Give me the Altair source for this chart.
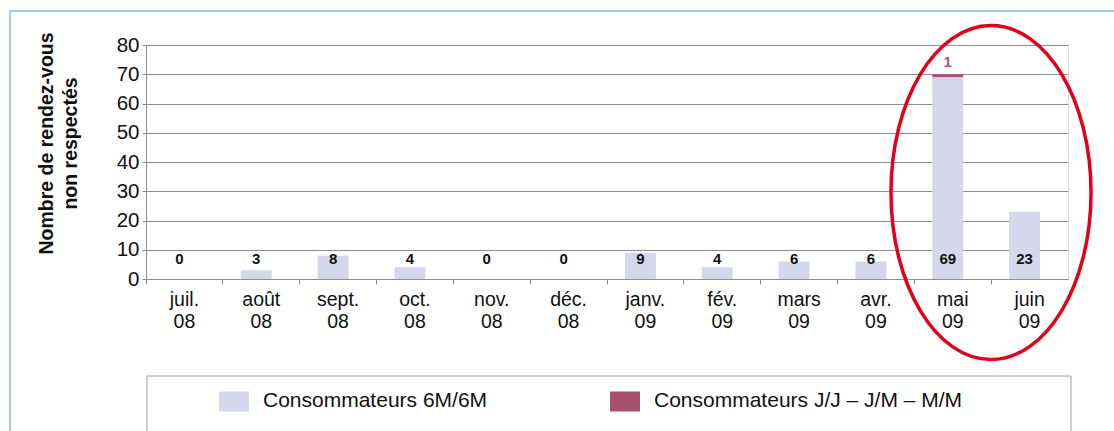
import altair as alt
import pandas as pd

# Monthly counts of missed appointments, two consumer groups (stacked)
months = ["juil. 08", "août 08", "sept. 08", "oct. 08", "nov. 08", "déc. 08",
          "janv. 09", "fév. 09", "mars 09", "avr. 09", "mai 09", "juin 09"]
series_names = ["Consommateurs 6M/6M", "Consommateurs J/J – J/M – M/M"]
conso_6m = [0, 3, 8, 4, 0, 0, 9, 4, 6, 6, 69, 23]
conso_jj = [0, 0, 0, 0, 0, 0, 0, 0, 0, 0, 1, 0]
colors = ["#d5d8eb", "#a8506f"]
y_ticks = [0, 10, 20, 30, 40, 50, 60, 70, 80]

rows = []
for i, m in enumerate(months):
    rows.append({"mois": m, "serie": series_names[0], "ordre": 0, "valeur": conso_6m[i]})
    rows.append({"mois": m, "serie": series_names[1], "ordre": 1, "valeur": conso_jj[i]})
df = pd.DataFrame(rows)

GRID = "#8e8e8e"
FONT = "Liberation Sans"

x_enc = alt.X(
    "mois:N", sort=months, title=None,
    scale=alt.Scale(paddingInner=0, paddingOuter=0),
    axis=alt.Axis(labelExpr="split(datum.label, ' ')", labelAngle=0,
                  labelFontSize=19.5, labelColor="#111", labelFont=FONT,
                  labelPadding=6, labelLineHeight=22, bandPosition=0,
                  tickSize=5, tickColor=GRID, domainColor=GRID, grid=False),
)
y_scale = alt.Scale(domain=[0, 80], nice=False)
# tickCount must not be below the number of explicit values, or Vega thins them
y_axis = alt.Axis(values=y_ticks, tickCount=len(y_ticks) + 1, labelOverlap=False,
                  grid=True, gridColor=GRID, tickSize=4, tickColor=GRID, domainColor=GRID,
                  labelFontSize=20.5, labelColor="#111", labelFont=FONT, labelPadding=3,
                  title=["Nombre de rendez-vous", "non respectés"],
                  titleFont=FONT, titleFontSize=19.5, titleFontWeight="bold",
                  titleColor="#111", titleAngle=-90, titleAlign="center",
                  titleBaseline="top", titleLineHeight=24, titleX=-109, titleY=98)

bar_shape = "M -1 -0.667 H 1 V 0.667 H -1 Z"

bars = alt.Chart(df).mark_bar(size=31, xOffset=-5).encode(
    x=x_enc,
    y=alt.Y("valeur:Q", stack="zero", scale=y_scale, axis=y_axis),
    color=alt.Color("serie:N", scale=alt.Scale(domain=series_names, range=colors),
                    legend=alt.Legend(orient="none", legendX=73, legendY=341,
                                      direction="horizontal", title=None, padding=0,
                                      symbolType=bar_shape, symbolSize=900,
                                      symbolStrokeWidth=0, labelFont=FONT,
                                      labelFontSize=21, labelColor="#111",
                                      labelOffset=14, columnPadding=122,
                                      labelLimit=400)),
    order=alt.Order("ordre:Q"),
)

labels_6m = alt.Chart(df).transform_filter("datum.ordre == 0").mark_text(
    font=FONT, fontSize=15, fontWeight="bold", color="#111", dx=-5
).encode(x=x_enc, y=alt.value(214), text="valeur:Q")

labels_jj = alt.Chart(df).transform_joinaggregate(
    total="sum(valeur)", groupby=["mois"]
).transform_filter("datum.ordre == 1 && datum.valeur > 0").mark_text(
    font=FONT, fontSize=15, fontWeight="bold", color="#b0587a", dx=-5, dy=-12
).encode(x=x_enc, y=alt.Y("total:Q", scale=y_scale, axis=y_axis), text="valeur:Q")

one = pd.DataFrame({"k": [0]})

frame_v = alt.Chart(one).mark_rule(color="#86b9e3", strokeWidth=1.5).encode(
    x=alt.value(-136), y=alt.value(-34), y2=alt.value(400))
frame_h = alt.Chart(one).mark_rule(color="#86b9e3", strokeWidth=1.5).encode(
    x=alt.value(-136), x2=alt.value(1000), y=alt.value(-34))

legend_box = alt.Chart(one).mark_rect(fill=None, stroke="#a0a0a0", strokeWidth=1).encode(
    x=alt.value(1), x2=alt.value(925), y=alt.value(331), y2=alt.value(420))

ellipse_path = ("M 0.599 0 C 0.599 0.5523 0.331 1 0 1 C -0.331 1 -0.599 0.5523 -0.599 0 "
                "C -0.599 -0.5523 -0.331 -1 0 -1 C 0.331 -1 0.599 -0.5523 0.599 0 Z")
ellipse = alt.Chart(one).mark_point(shape=ellipse_path, filled=False, stroke="#e2001a",
                                    strokeWidth=3.5, opacity=1).encode(
    x=alt.value(845), y=alt.value(147.5), size=alt.value(111556))

chart = alt.layer(frame_v, frame_h, legend_box, bars, labels_6m, labels_jj, ellipse).properties(
    width=922, height=234,
    autosize=alt.AutoSizeParams(type="none"),
    padding={"left": 146, "top": 45, "right": 46, "bottom": 152},
).configure_view(stroke=GRID, strokeWidth=1).configure(background="white")

chart.save("out.html", embed_options={"renderer": "svg", "actions": False})
